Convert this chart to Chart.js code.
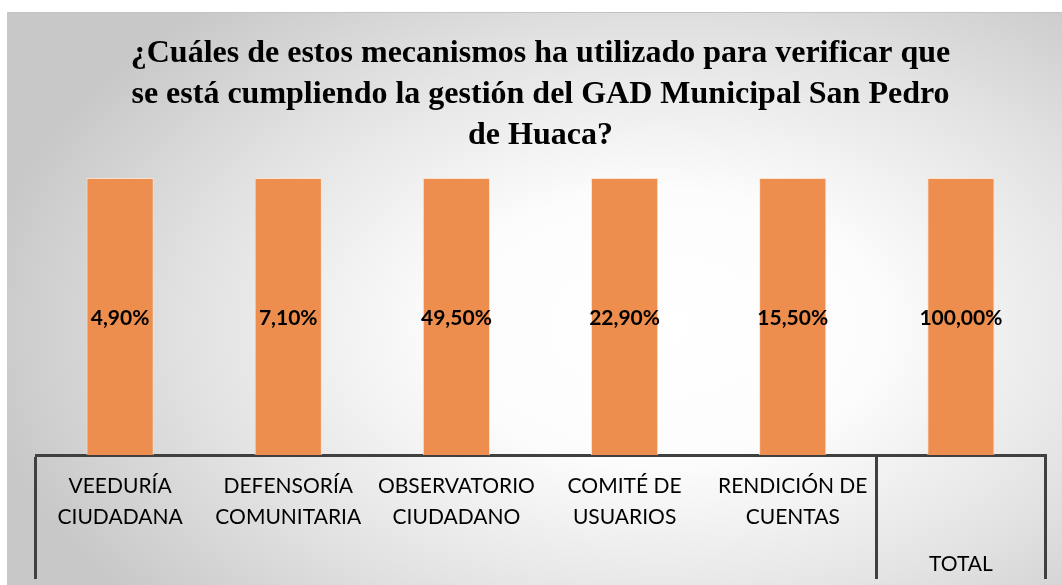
<!DOCTYPE html>
<html>
<head>
<meta charset="utf-8">
<script src="https://cdn.jsdelivr.net/npm/chart.js@4/dist/chart.umd.min.js"></script>
<style>
  html, body { margin: 0; padding: 0; background: #fff; }
  #marco {
    position: absolute; left: 7px; top: 12px; width: 1055px; height: 573px;
    background: radial-gradient(ellipse 65% 75% at 62% 55%, #ffffff 0%, #fcfcfc 32%, #e4e4e4 66%, #c8c8c8 100%);
    border-top: 1px solid #c4c4c4;
    box-sizing: border-box;
  }
</style>
</head>
<body>
<div id="marco"><canvas id="grafico" width="1055" height="572"></canvas></div>
<script>
var categorias = [
  ["VEEDURÍA", "CIUDADANA"],
  ["DEFENSORÍA", "COMUNITARIA"],
  ["OBSERVATORIO", "CIUDADANO"],
  ["COMITÉ DE", "USUARIOS"],
  ["RENDICIÓN DE", "CUENTAS"],
  ["", "TOTAL"]
];
var valores = [4.9, 7.1, 49.5, 22.9, 15.5, 100];
var titulo = [
  "¿Cuáles de estos mecanismos ha utilizado para verificar que",
  "se está cumpliendo la gestión del GAD Municipal San Pedro",
  "de Huaca?"
];

// columna apilada al 100%: cada categoría tiene una sola serie
var totales = valores.map(function (v) { return v; });
var porcentajes = valores.map(function (v, i) { return v / totales[i] * 100; });

var etiquetas = {
  id: 'etiquetas',
  afterDatasetsDraw: function (chart) {
    var ctx = chart.ctx;
    var meta = chart.getDatasetMeta(0);
    ctx.save();
    ctx.font = 'bold 21px Lato';
    ctx.fillStyle = '#000';
    ctx.textAlign = 'center';
    ctx.textBaseline = 'middle';
    meta.data.forEach(function (barra, i) {
      var txt = valores[i].toFixed(2).replace('.', ',') + '%';
      ctx.fillText(txt, barra.x, (barra.y + barra.base) / 2 + 2);
    });
    ctx.restore();
  }
};

var ctx = document.getElementById('grafico');
var grafico = new Chart(ctx, {
  type: 'bar',
  data: {
    labels: categorias,
    datasets: [{
      data: porcentajes,
      backgroundColor: 'rgb(237,142,78)',
      borderColor: 'rgba(255,225,200,0.9)',
      borderWidth: 1,
      categoryPercentage: 1,
      barPercentage: 0.4
    }]
  },
  options: {
    responsive: false,
    animation: false,
    layout: { padding: { left: 29, right: 17, top: 0, bottom: 0 } },
    plugins: {
      legend: { display: false },
      tooltip: { enabled: false },
      title: {
        display: true,
        text: titulo,
        color: '#000',
        font: { family: 'Liberation Serif', size: 32, weight: 'bold', lineHeight: '41px' },
        padding: { top: 20, bottom: 22 }
      }
    },
    scales: {
      y: {
        display: false,
        min: 0,
        max: 100,
        stacked: true
      },
      x: {
        stacked: true,
        afterFit: function (scale) { scale.height = 130; },
        border: { display: true, color: '#404040', width: 3 },
        grid: {
          offset: true,
          drawOnChartArea: false,
          drawTicks: true,
          tickLength: 124,
          lineWidth: 3,
          color: function (c) {
            if (c.index === undefined || c.index === 0 || c.index === 5) return '#404040';
            return 'rgba(0,0,0,0)';
          }
        },
        ticks: {
          autoSkip: false,
          maxRotation: 0,
          padding: -108,
          color: '#000',
          font: function (c) {
            if (c.index === 5) return { family: 'Lato', size: 21, lineHeight: '62px' };
            return { family: 'Lato', size: 21, lineHeight: '31px' };
          }
        }
      }
    }
  },
  plugins: [etiquetas]
});
</script>
</body>
</html>
